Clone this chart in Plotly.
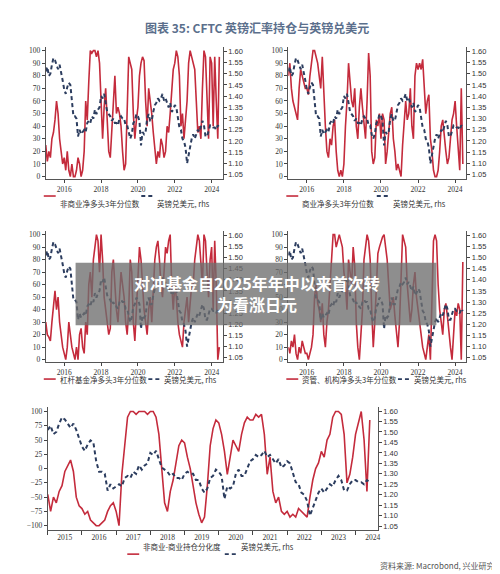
import numpy as np
import plotly.graph_objects as go

# monthly, Jan 2015 .. Jun 2024
months = 2015 + np.arange(114) / 12.0

gbpusd = [1.51, 1.53, 1.49, 1.50, 1.54, 1.57, 1.56, 1.54, 1.52, 1.54, 1.51, 1.47,
          1.43, 1.41, 1.44, 1.46, 1.45, 1.36, 1.31, 1.31, 1.30, 1.22, 1.25, 1.23,
          1.24, 1.25, 1.24, 1.28, 1.29, 1.28, 1.31, 1.30, 1.34, 1.32, 1.34, 1.35,
          1.40, 1.39, 1.41, 1.37, 1.33, 1.32, 1.31, 1.29, 1.30, 1.28, 1.28, 1.27,
          1.30, 1.31, 1.30, 1.30, 1.27, 1.27, 1.23, 1.21, 1.23, 1.28, 1.29, 1.32,
          1.31, 1.29, 1.18, 1.24, 1.23, 1.24, 1.30, 1.32, 1.29, 1.29, 1.33, 1.36,
          1.37, 1.39, 1.38, 1.39, 1.41, 1.38, 1.39, 1.37, 1.35, 1.37, 1.33, 1.34,
          1.36, 1.35, 1.31, 1.26, 1.25, 1.21, 1.20, 1.17, 1.10, 1.14, 1.18, 1.21,
          1.23, 1.21, 1.23, 1.25, 1.24, 1.27, 1.29, 1.27, 1.22, 1.22, 1.25, 1.27,
          1.27, 1.26, 1.26, 1.25, 1.27, 1.26]

noncommercial = [25, 12, 20, 15, 30, 35, 45, 60, 50, 30, 20, 10,
                 15, 5, 20, 5, 0, 10, 0, 0, 5, 15, 10, 0,
                 5, 20, 60, 45, 75, 100, 98, 100, 100, 95, 100, 90,
                 60, 30, 55, 70, 45, 20, 15, 40, 60, 80, 50, 55,
                 50, 40, 20, 5, 10, 60, 95, 90, 85, 50, 30, 45,
                 55, 80, 90, 95, 92, 60, 40, 70, 60, 50, 35, 20,
                 10, 20, 15, 30, 25, 15, 20, 40, 35, 50, 70, 85,
                 90, 100, 95, 80, 40, 50, 30, 45, 60, 90, 100, 95,
                 90, 85, 60, 35, 40, 30, 70, 100, 95, 60, 30, 95,
                 90, 40, 95, 60, 30, 95]

commercial = [80, 90, 70, 60, 55, 50, 45, 70, 85, 80, 75, 70,
              70, 65, 80, 90, 100, 100, 95, 90, 80, 70, 95, 60,
              40, 20, 15, 30, 25, 40, 45, 20, 5, 0, 5, 0,
              10, 40, 60, 90, 75, 60, 55, 70, 40, 30, 55, 70,
              55, 40, 30, 60, 98, 80, 20, 10, 15, 45, 40, 50,
              30, 50, 45, 10, 20, 35, 50, 55, 30, 20, 5, 10,
              5, 0, 25, 40, 60, 45, 50, 70, 40, 30, 80, 90,
              85, 90, 85, 93, 75, 50, 60, 65, 30, 20, 5, 0,
              0, 5, 20, 40, 45, 30, 20, 10, 15, 30, 45, 50,
              60, 40, 20, 5, 70, 10]

leveraged = [30, 20, 18, 15, 30, 45, 55, 40, 50, 30, 20, 10,
             5, 0, 10, 30, 20, 10, 5, 0, 10, 0, 20, 25,
             10, 5, 30, 20, 60, 70, 50, 80, 90, 100, 95, 70,
             100, 80, 50, 40, 30, 20, 25, 70, 80, 60, 40, 30,
             50, 70, 60, 50, 30, 20, 40, 80, 70, 30, 15, 40,
             70, 90, 80, 60, 40, 30, 20, 40, 50, 30, 60, 80,
             90, 95, 80, 60, 50, 70, 90, 85, 95, 100, 60, 40,
             60, 50, 30, 20, 15, 10, 30, 40, 50, 30, 45, 60,
             60, 80, 90, 100, 95, 80, 60, 100, 95, 70, 50, 80,
             90, 40, 95, 60, 0, 10]

asset_mgr = [10, 5, 15, 10, 20, 5, 0, 10, 5, 15, 10, 5,
             5, 0, 5, 10, 20, 50, 60, 45, 40, 30, 45, 20,
             10, 30, 40, 60, 80, 100, 100, 90, 95, 100, 95, 90,
             70, 60, 40, 80, 70, 60, 90, 75, 30, 10, 0, 20,
             40, 80, 90, 100, 95, 80, 40, 10, 30, 60, 85, 90,
             95, 98, 100, 90, 80, 60, 40, 45, 50, 35, 20, 10,
             30, 70, 100, 95, 90, 60, 45, 30, 40, 60, 70, 50,
             40, 30, 20, 10, 5, 0, 10, 20, 0, 60, 95, 100,
             95, 60, 40, 30, 20, 40, 45, 35, 20, 10, 0, 20,
             40, 35, 45, 40, 0, 78]

divergence = [-45, -75, -50, -60, -40, -30, -5, 5, 15, -5, -50, -65,
              -70, -80, -75, -90, -95, -100, -100, -95, -90, -75, -65, -60,
              -75, -100, -10, 40, 90, 100, 100, 95, 100, 100, 100, 95,
              100, 100, 90, 60, 0, -60, -75, -40, -20, 10, 40, 50,
              45, 20, 0, -30, -60, -80, -95, -85, -30, 40, 70, 85,
              80, 60, 30, -10, 20, 50, 40, 30, 60, 80, 90, 85,
              85, 95, 90, 95, 60, -10, 20, -40, -60, -50, -75, -80,
              -75, -85, -80, -85, -70, -75, -80, -85, -50, -20, 0, 10,
              30, 20, 50, 60, 90, 100, 100, 95, 60, -25, -10, 20,
              60, 80, 100, 50, -40, 85]

RED = "#c42b3c"
NAVY = "#2c3d5f"
W, H = 500, 574

fig = go.Figure()
layout = {}


def px_x(v):
    return v / W


def px_y(v):
    return 1 - v / H


def add_panel(i, red, legend_label, box, ymin, ymax, ydtick, centered=False):
    x0, x1, y0, y1 = box
    xa = "x" if i == 1 else f"x{i}"
    ya = "y" if i == 1 else f"y{2 * i - 1}"
    yb = f"y{2 * i}"
    fig.add_trace(go.Scatter(x=months, y=red, mode="lines", line=dict(color=RED, width=1.6),
                             xaxis=xa, yaxis=ya, showlegend=False))
    fig.add_trace(go.Scatter(x=months, y=gbpusd, mode="lines",
                             line=dict(color=NAVY, width=2, dash="4px,3px"),
                             xaxis=xa, yaxis=yb, showlegend=False))
    xkey = "xaxis" if i == 1 else f"xaxis{i}"
    ykey = "yaxis" if i == 1 else f"yaxis{2 * i - 1}"
    ykey2 = f"yaxis{2 * i}"
    ax = dict(domain=[px_x(x0), px_x(x1)], anchor=ya, range=[2015, 2024.6], showgrid=False,
              showline=True, linecolor="#555", linewidth=1, ticks="outside", ticklen=3,
              tickfont=dict(size=7.5, family="Liberation Serif", color="#333"))
    if centered:
        ax.update(tickmode="array", tickvals=[y + 0.5 for y in range(2015, 2025)],
                  ticktext=[str(y) for y in range(2015, 2025)], ticks="",
                  minor=dict(tickmode="array", tickvals=list(range(2015, 2025)), ticks="outside", ticklen=4),
                  range=[2015, 2024.65])
    else:
        ax.update(tickmode="array", tickvals=list(range(2016, 2025, 2)))
    layout[xkey] = ax
    layout[ykey] = dict(domain=[px_y(y1), px_y(y0)], anchor=xa, range=[ymin, ymax], dtick=ydtick,
                        tick0=0, showgrid=False, zeroline=False, showline=True, linecolor="#555",
                        ticks="outside", ticklen=3, tickfont=dict(size=7.5, family="Liberation Serif", color="#333"))
    layout[ykey2] = dict(overlaying=ya, side="right", anchor=xa, range=[1.03, 1.62], dtick=0.05, tick0=1.0,
                         tickformat=".2f", showgrid=False, zeroline=False, showline=True, linecolor="#555",
                         ticks="outside", ticklen=3, tickfont=dict(size=7.5, family="Liberation Sans", color="#333"))
    # custom legend below the panel
    ly = y1 + (17 if not centered else 24)
    lx = x0 + (-2 if not centered else 80)
    fig.add_shape(type="line", xref="paper", yref="paper", x0=px_x(lx), x1=px_x(lx + 12),
                  y0=px_y(ly), y1=px_y(ly), line=dict(color=RED, width=1.6))
    fig.add_annotation(xref="paper", yref="paper", x=px_x(lx + 14), y=px_y(ly), text=legend_label,
                       showarrow=False, xanchor="left", font=dict(size=7.5, color="#333", family="Noto Sans CJK SC"))
    lx2 = lx + 14 + 7.1 * len(legend_label) + 6
    fig.add_shape(type="line", xref="paper", yref="paper", x0=px_x(lx2), x1=px_x(lx2 + 12),
                  y0=px_y(ly), y1=px_y(ly), line=dict(color=NAVY, width=1.8, dash="4px,3px"))
    fig.add_annotation(xref="paper", yref="paper", x=px_x(lx2 + 14), y=px_y(ly), text="英镑兑美元, rhs",
                       showarrow=False, xanchor="left", font=dict(size=7.5, color="#333", family="Noto Sans CJK SC"))


add_panel(1, noncommercial, "非商业净多头3年分位数", (38, 216, 38, 171), -2, 103, 10)
add_panel(2, commercial, "商业净多头3年分位数", (282, 461, 38, 171), -2, 103, 10)
add_panel(3, leveraged, "杠杆基金净多头3年分位数", (38, 216, 223, 355), -2, 103, 10)
add_panel(4, asset_mgr, "资管、机构净多头3年分位数", (282, 461, 223, 355), -2, 103, 10)
add_panel(5, divergence, "非商业-商业持仓分化度", (40, 372, 400, 524), -108, 108, 25, centered=True)

fig.add_annotation(xref="paper", yref="paper", x=0.5, y=px_y(8), text="<b>图表 35: CFTC 英镑汇率持仓与英镑兑美元</b>",
                   showarrow=False, font=dict(size=12, color="#5b6f8c", family="Noto Sans CJK SC"))
fig.add_annotation(xref="paper", yref="paper", x=px_x(492), y=px_y(567), xanchor="right",
                   text="资料来源: Macrobond, 兴业研究", showarrow=False,
                   font=dict(size=8, color="#555", family="Noto Sans CJK SC"))
# grey banner overlay
fig.add_shape(type="rect", xref="paper", yref="paper", x0=px_x(68), x1=px_x(431), y0=px_y(318), y1=px_y(255),
              fillcolor="rgba(110,110,110,0.78)", line=dict(width=0), layer="above")
fig.add_annotation(xref="paper", yref="paper", x=0.5, y=px_y(286), showarrow=False,
                   text="<b>对冲基金自2025年年中以来首次转</b><br><b>为看涨日元</b>",
                   font=dict(size=16, color="white", family="Noto Sans CJK SC"))

fig.update_layout(width=W, height=H, margin=dict(l=0, r=0, t=0, b=0), plot_bgcolor="white",
                  paper_bgcolor="white", showlegend=False, **layout)
fig.write_html("out.html")
